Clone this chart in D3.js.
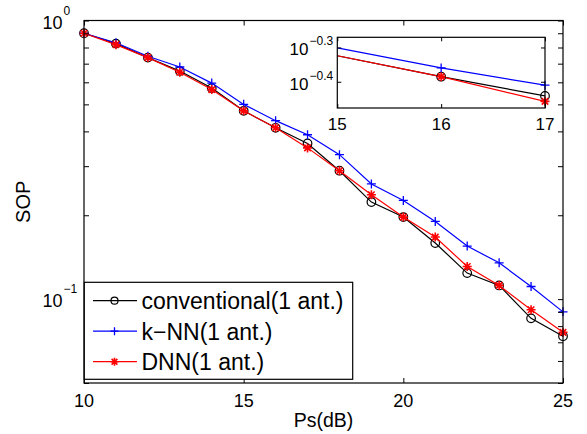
<!DOCTYPE html>
<html>
<head>
<meta charset="utf-8">
<script src="https://cdn.jsdelivr.net/npm/d3@7"></script>
<style>
  body { margin: 0; background: #fff; }
  text { font-family: "Liberation Sans", Arial, sans-serif; fill: #000; }
</style>
</head>
<body>
<svg id="chart" width="587" height="434"></svg>
<script>
// Chart data
const xValues = [10, 11, 12, 13, 14, 15, 16, 17, 18, 19, 20, 21, 22, 23, 24, 25];
const conventional = [0.900, 0.826, 0.736, 0.659, 0.572, 0.474, 0.412, 0.362, 0.289, 0.223, 0.197, 0.159, 0.124, 0.112, 0.0853, 0.0736];
const knn = [0.900, 0.832, 0.744, 0.681, 0.596, 0.500, 0.437, 0.389, 0.330, 0.259, 0.226, 0.190, 0.155, 0.135, 0.111, 0.090];
const dnn = [0.900, 0.819, 0.736, 0.652, 0.565, 0.474, 0.412, 0.349, 0.289, 0.237, 0.197, 0.167, 0.131, 0.112, 0.0916, 0.076];
const legendLabels = ["conventional(1 ant.)", "k\u2212NN(1 ant.)", "DNN(1 ant.)"];

// Axis ranges and ticks
const xDomain = [10, 25];
const yDomain = [0.05, 1];
const xTicks = [10, 15, 20, 25];
const yMajorTicks = [1, 0.1];
const yMajorExp = ["0", "\u22121"];
const yMinorTicks = [0.05, 0.06, 0.07, 0.08, 0.09, 0.2, 0.3, 0.4, 0.5, 0.6, 0.7, 0.8, 0.9];

// Inset (zoom on 15..17)
const insetXDomain = [15, 17];
const insetYDomain = [Math.pow(10, -0.4765), Math.pow(10, -0.2703)];
const insetXTicks = [15, 16, 17];
const insetYTicks = [Math.pow(10, -0.3), Math.pow(10, -0.4)];
const insetYExp = ["\u22120.3", "\u22120.4"];
const insetMarkerX = [16, 17];

const series = [
    { name: legendLabels[0], values: conventional, color: "#000000", marker: "circle" },
    { name: legendLabels[1], values: knn, color: "#0000ff", marker: "plus" },
    { name: legendLabels[2], values: dnn, color: "#ff0000", marker: "star" }
];

const svg = d3.select("#chart");
svg.append("rect").attr("width", 587).attr("height", 434).attr("fill", "#fff");

const plot = { left: 84, right: 563, top: 20.5, bottom: 383 };
const x = d3.scaleLinear().domain(xDomain).range([plot.left, plot.right]);
const y = d3.scaleLog().domain(yDomain).range([plot.bottom, plot.top]);

// Draw one marker
function drawMarker(g, type, cx, cy, color, s) {
    if (type == "circle") {
        g.append("circle").attr("cx", cx).attr("cy", cy).attr("r", s)
            .attr("fill", "none").attr("stroke", color).attr("stroke-width", 1.2);
    } else {
        var d = `M${cx - s},${cy}H${cx + s}M${cx},${cy - s}V${cy + s}`;
        if (type == "star") {
            var k = s * 0.72;
            d += `M${cx - k},${cy - k}L${cx + k},${cy + k}M${cx - k},${cy + k}L${cx + k},${cy - k}`;
        }
        g.append("path").attr("d", d).attr("stroke", color)
            .attr("stroke-width", type == "star" ? 1.6 : 1.3).attr("fill", "none");
    }
}

// Draw lines and markers for a pair of scales
function drawSeries(g, xs, ys, markerFilter) {
    series.forEach(s => {
        var pts = xValues.map((v, i) => [v, s.values[i]]);
        g.append("path")
            .attr("d", d3.line().x(p => xs(p[0])).y(p => ys(p[1]))(pts))
            .attr("fill", "none").attr("stroke", s.color).attr("stroke-width", 1.2);
        pts.filter(p => markerFilter(p[0])).forEach(p => {
            drawMarker(g, s.marker, xs(p[0]), ys(p[1]), s.color, s.marker == "circle" ? 4.3 : 4.5);
        });
    });
}

// Axes tick marks (inward, on all four sides)
function drawTicks(xs, ys, xt, yt, box, len) {
    svg.append("g").attr("transform", `translate(0,${box.bottom})`)
        .call(d3.axisBottom(xs).tickValues(xt).tickSize(-len).tickFormat(""));
    svg.append("g").attr("transform", `translate(0,${box.top})`)
        .call(d3.axisTop(xs).tickValues(xt).tickSize(-len).tickFormat(""));
    svg.append("g").attr("transform", `translate(${box.left},0)`)
        .call(d3.axisLeft(ys).tickValues(yt).tickSize(-len).tickFormat(""));
    svg.append("g").attr("transform", `translate(${box.right},0)`)
        .call(d3.axisRight(ys).tickValues(yt).tickSize(-len).tickFormat(""));
    svg.selectAll(".domain").remove();
    svg.append("rect")
        .attr("x", box.left).attr("y", box.top)
        .attr("width", box.right - box.left).attr("height", box.bottom - box.top)
        .attr("fill", "none").attr("stroke", "#000").attr("stroke-width", 1.2);
}

// Main plot
const main = svg.append("g");
drawSeries(main, x, y, () => true);
drawTicks(x, y, xTicks, yMajorTicks.concat(yMinorTicks), plot, 5);

// Main tick labels
xTicks.forEach(t => {
    svg.append("text").attr("x", x(t)).attr("y", plot.bottom + 23.5)
        .attr("text-anchor", "middle").attr("font-size", 18).text(t);
});
yMajorTicks.forEach((t, i) => {
    svg.append("text").attr("x", 62.5).attr("y", y(t) + 8)
        .attr("text-anchor", "end").attr("font-size", 18).text("10");
    svg.append("text").attr("x", 63.5).attr("y", y(t) - 6)
        .attr("font-size", 12).text(yMajorExp[i]);
});

// Axis titles
svg.append("text").attr("x", (plot.left + plot.right) / 2).attr("y", 426.5)
    .attr("text-anchor", "middle").attr("font-size", 19.5).text("Ps(dB)");
svg.append("text").attr("transform", `translate(30,${(plot.top + plot.bottom) / 2}) rotate(-90)`)
    .attr("text-anchor", "middle").attr("font-size", 20).text("SOP");

// Inset
const inset = { left: 337.3, right: 545, top: 37.3, bottom: 108 };
const ix = d3.scaleLinear().domain(insetXDomain).range([inset.left, inset.right]);
const iy = d3.scaleLog().domain(insetYDomain).range([inset.bottom, inset.top]);

svg.append("rect").attr("x", inset.left).attr("y", inset.top)
    .attr("width", inset.right - inset.left).attr("height", inset.bottom - inset.top)
    .attr("fill", "#fff");
svg.append("clipPath").attr("id", "insetClip").append("rect")
    .attr("x", inset.left).attr("y", inset.top)
    .attr("width", inset.right - inset.left).attr("height", inset.bottom - inset.top);

const insetLines = svg.append("g").attr("clip-path", "url(#insetClip)");
series.forEach(s => {
    var pts = xValues.map((v, i) => [v, s.values[i]]);
    insetLines.append("path")
        .attr("d", d3.line().x(p => ix(p[0])).y(p => iy(p[1]))(pts))
        .attr("fill", "none").attr("stroke", s.color).attr("stroke-width", 1.2);
});
const insetMarks = svg.append("g");
series.forEach(s => {
    insetMarkerX.forEach(v => {
        var i = xValues.indexOf(v);
        drawMarker(insetMarks, s.marker, ix(v), iy(s.values[i]), s.color, s.marker == "circle" ? 4.3 : 4.5);
    });
});
drawTicks(ix, iy, insetXTicks, insetYTicks, inset, 4);

insetXTicks.forEach(t => {
    svg.append("text").attr("x", ix(t)).attr("y", inset.bottom + 22)
        .attr("text-anchor", "middle").attr("font-size", 17).text(t);
});
insetYTicks.forEach((t, i) => {
    svg.append("text").attr("x", 308.5).attr("y", iy(t) + 8)
        .attr("text-anchor", "end").attr("font-size", 17).text("10");
    svg.append("text").attr("x", 309.5).attr("y", iy(t) - 2)
        .attr("font-size", 12).text(insetYExp[i]);
});

// Legend
const legend = svg.append("g");
legend.append("rect").attr("x", 84.3).attr("y", 282.3).attr("width", 268.4).attr("height", 97)
    .attr("fill", "#fff").attr("stroke", "#000").attr("stroke-width", 1.2);
series.forEach((s, i) => {
    var ly = 300.7 + i * 30.5;
    legend.append("line").attr("x1", 93).attr("x2", 137).attr("y1", ly).attr("y2", ly)
        .attr("stroke", s.color).attr("stroke-width", 1.2);
    drawMarker(legend, s.marker, 114.5, ly, s.color, s.marker == "circle" ? 3.5 : 4);
    legend.append("text").attr("x", 141.5).attr("y", ly + 8.7)
        .attr("font-size", 23).text(s.name);
});
</script>
</body>
</html>
